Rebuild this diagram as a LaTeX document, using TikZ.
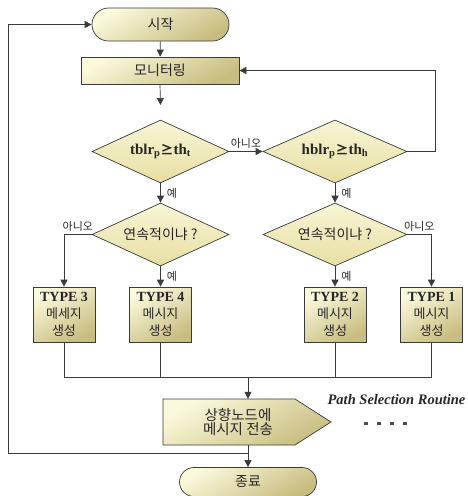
\documentclass[tikz,border=0pt]{standalone}
\usepackage{fontspec}
\setmainfont{Noto Sans CJK KR}
\newfontfamily\tms{Liberation Serif}
\newcommand\condf{\tms\bfseries\fontsize{14}{16}\selectfont}
\newcommand\bigcondf{\tms\bfseries\fontsize{15}{17}\selectfont}
\usetikzlibrary{shapes.geometric,shapes.misc,arrows.meta}
\definecolor{edge}{HTML}{3A3A3A}
\definecolor{boxlight}{HTML}{FBF9DC}
\definecolor{boxdark}{HTML}{C8BD80}
\definecolor{diatop}{HTML}{F8F5D6}
\definecolor{diabot}{HTML}{E6DFA2}
\begin{document}
\begin{tikzpicture}[x=1pt,y=-1pt,
  every node/.style={font=\fontsize{14}{16}\selectfont, text=black!85},
  ln/.style={draw=edge, line width=0.7pt},
  arr/.style={ln, -{Triangle[length=7pt,width=7pt]}},
  shade3d/.style={top color=boxlight, bottom color=boxdark, shading angle=30},
  term/.style={rounded rectangle, draw=edge, line width=0.7pt, minimum width=137pt, minimum height=33pt, inner sep=0pt, shade3d},
  box/.style={rectangle, draw=edge, line width=0.7pt, inner sep=1pt, shade3d},
  dec/.style={diamond, aspect=2, inner sep=0pt, draw=edge, line width=0.7pt, minimum width=137pt, minimum height=63pt, top color=diatop, bottom color=diabot},
  tbox/.style={box, minimum width=62pt, minimum height=55pt, align=center, font=\fontsize{13}{17}\selectfont},
  lab/.style={font=\fontsize{11}{12}\selectfont, inner sep=1pt}
]
\useasboundingbox (0,0) rectangle (467,496);

% nodes
\node[term] (start) at (160.5,24.5) {시작};
\node[box, minimum width=158pt, minimum height=27pt] (mon) at (160,70.5) {모니터링};
\coordinate (a1) at (160.5,105);
\node[dec] (d1) at (160.5,151.5) {\bigcondf tblr\textsubscript{p}{\rmfamily\fontsize{13}{15}\selectfont ≥}th\textsubscript{t}};
\node[dec, minimum width=144pt] (d2) at (335,151.5) {\bigcondf hblr\textsubscript{p}{\rmfamily\fontsize{13}{15}\selectfont ≥}th\textsubscript{h}};
\node[dec] (d3) at (160.5,234.5) {연속적이냐 ?};
\node[dec, minimum width=144pt] (d4) at (335,234.5) {연속적이냐 ?};
\node[tbox] (t3) at (64,314.5) {{\condf TYPE 3}\\메세지\\생성};
\node[tbox] (t4) at (160.5,314.5) {{\condf TYPE 4}\\메시지\\생성};
\node[tbox] (t2) at (335,314.5) {{\condf TYPE 2}\\메시지\\생성};
\node[tbox] (t1) at (431.5,314.5) {{\condf TYPE 1}\\메시지\\생성};

\draw[ln, shade3d] (163,399) -- (295,399) -- (331,422) -- (295,445) -- (163,445) -- cycle;
\node[align=center, minimum height=46pt, inner sep=0pt, font=\fontsize{14.5}{12}\selectfont] (send) at (238,422) {상향노드에\\메시지 전송};
\node[term, minimum height=29pt] (end) at (248,482) {종료};

\node[font=\tms\bfseries\itshape\fontsize{14.5}{16}\selectfont] (psr) at (396.5,400) {Path Selection Routine};
\foreach \x in {364,377,390,403} \fill[black!70] (\x,421.5) rectangle ++(4,3);

% coordinates
\coordinate (rt) at (435,0);
\coordinate (busL) at (64,377);
\coordinate (busR) at (431.5,377);
\coordinate (j1) at (248,377);
\coordinate (j2) at (248,453);
\coordinate (loopL) at (8,453);

% connectors
\draw[arr] (start) -- (mon);
\draw[arr] (mon.south) -- (a1);
\draw[arr] (d1.east) -- node[lab, above=2pt] {아니오} (d2.west);
\draw[arr] (d2.east) -- (d2.east -| rt) |- (mon.east);
\draw[arr] (d1.south) -- node[lab, right=5pt] {예} (d3.north);
\draw[arr] (d2.south) -- node[lab, right=5pt] {예} (d4.north);
\draw[arr] (d3.west) -| node[lab, above=2pt, pos=0.25] {아니오} (t3.north);
\draw[arr] (d4.east) -| node[lab, above=2pt, pos=0.25] {아니오} (t1.north);
\draw[arr] (d3.south) -- node[lab, right=5pt] {예} (t4.north);
\draw[arr] (d4.south) -- node[lab, right=5pt] {예} (t2.north);

\draw[ln] (t3.south) -- (busL) -- (busR) -- (t1.south);
\draw[ln] (t4.south) -- (t4.south |- busL);
\draw[ln] (t2.south) -- (t2.south |- busL);
\draw[arr] (j1) -- (j1 |- send.north);
\draw[arr] (j1 |- send.south) -- (end.north);
\draw[arr] (j2) -- (loopL) |- (start.west);
\end{tikzpicture}
\end{document}
